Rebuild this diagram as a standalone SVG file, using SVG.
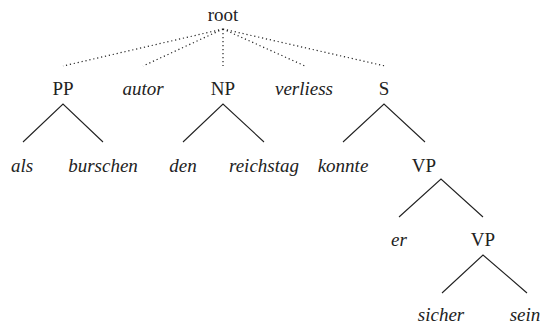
<svg xmlns="http://www.w3.org/2000/svg" width="544" height="324" viewBox="0 0 544 324">
  <style>
    .t { font-family: 'Liberation Serif', 'Times New Roman', serif; font-size: 19px; fill: #222; text-anchor: middle; }
    .w { font-style: italic; }
    .dot { stroke: #222; stroke-width: 1.2; stroke-dasharray: 1.2 2.8; fill: none; }
    .br { stroke: #222; stroke-width: 1.1; fill: none; }
  </style>
  <rect width="544" height="324" fill="#fff"/>
  <!-- tree edges: dotted from root, solid below -->
  <g id="connectors">
    <path class="dot" d="M223 29 L63 66 M223 29 L143 66 M223 29 L223 66 M223 29 L305 66 M223 29 L385 66"/>
    <path class="br" d="M23 142 L63 104 L103 142"/>
    <path class="br" d="M183 142 L223 104 L264 142"/>
    <path class="br" d="M343 142 L384 104 L425 142"/>
    <path class="br" d="M399 217 L441 179 L483 217"/>
    <path class="br" d="M442 293 L483 255 L527 293"/>
  </g>
  <g id="root"><text class="t" x="223" y="21">root</text></g>
  <g id="pp"><text class="t" x="63" y="95">PP</text></g>
  <g id="autor"><text class="t w" x="143" y="95">autor</text></g>
  <g id="np"><text class="t" x="223" y="95">NP</text></g>
  <g id="verliess"><text class="t w" x="304" y="95">verliess</text></g>
  <g id="s"><text class="t" x="384" y="95">S</text></g>
  <g id="als"><text class="t w" x="22" y="172">als</text></g>
  <g id="burschen"><text class="t w" x="103" y="172">burschen</text></g>
  <g id="den"><text class="t w" x="183" y="172">den</text></g>
  <g id="reichstag"><text class="t w" x="264" y="172">reichstag</text></g>
  <g id="konnte"><text class="t w" x="343" y="172">konnte</text></g>
  <g id="vp1"><text class="t" x="424" y="172">VP</text></g>
  <g id="er"><text class="t w" x="399" y="246">er</text></g>
  <g id="vp2"><text class="t" x="483" y="246">VP</text></g>
  <g id="sicher"><text class="t w" x="441" y="321">sicher</text></g>
  <g id="sein"><text class="t w" x="525" y="321">sein</text></g>
</svg>
